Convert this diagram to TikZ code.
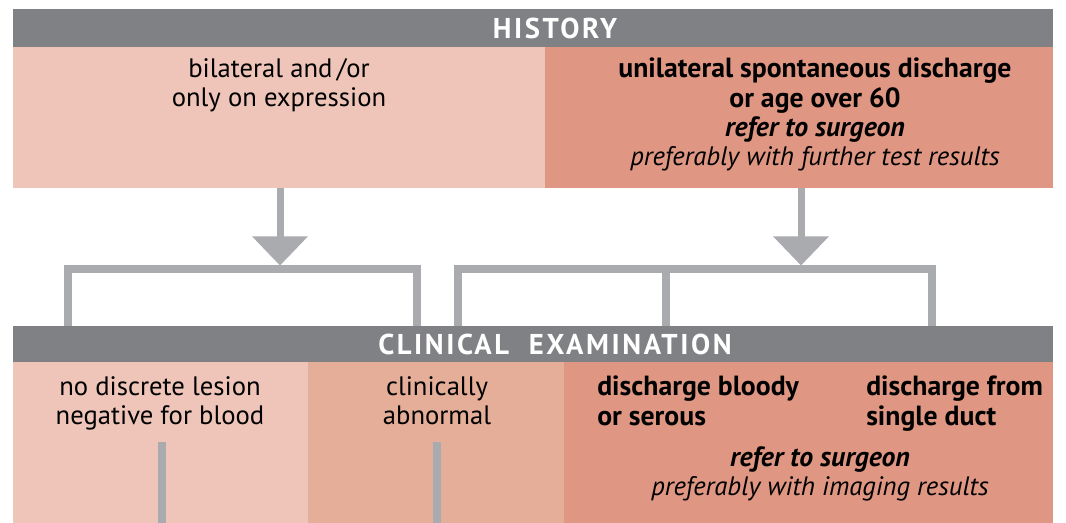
\documentclass[tikz,border=0pt]{standalone}
\usepackage{fontspec}
\setmainfont{PT Sans}
\newfontfamily\headfont[LetterSpace=9]{PT Sans}
\usetikzlibrary{arrows.meta,positioning}
\definecolor{barGray}{RGB}{128,129,133}
\definecolor{paleRose}{RGB}{238,197,184}
\definecolor{midRose}{RGB}{229,174,153}
\definecolor{deepRose}{RGB}{223,150,130}
\definecolor{linkGray}{RGB}{170,171,175}
\newcommand{\bigbf}{\bfseries\fontsize{20.8}{22}\selectfont}

\begin{document}
\begin{tikzpicture}[x=0.75pt,y=-0.75pt,
    bar/.style={fill=barGray,anchor=north west,inner sep=0pt,outer sep=0pt,minimum width=780pt},
    box/.style={anchor=north west,inner sep=0pt,outer sep=0pt,minimum height=105.75pt},
    lowbox/.style={anchor=north west,inner sep=0pt,outer sep=0pt,minimum height=120.75pt},
    title/.style={text=white,inner sep=0pt,font=\headfont\bfseries\fontsize{21.5}{24}\selectfont},
    txt/.style={anchor=north,inner sep=0pt,align=center,font=\fontsize{20}{22}\selectfont},
    link/.style={draw=linkGray,line width=6pt,line join=miter},
    down/.style={draw=linkGray,line width=5.25pt,-{Triangle[width=40.5pt,length=21.75pt]}}]
    \useasboundingbox (0,0) rectangle (1066,523);

    % history
    \node[bar,minimum height=28.5pt] (histHead) at (13,9) {};
    \node[title] (histTitle) at (555,28) {HISTORY};
    \node[box,fill=paleRose,minimum width=399pt] (histL) at (13,47) {};
    \node[box,fill=deepRose,minimum width=381pt] (histR) at (545,47) {};
    \node[txt] (histLtxt) at (279,58) {bilateral and\,/or\\only on expression};
    \node[txt] (histRtxt) at (815,58) {\bigbf unilateral spontaneous discharge\\
        \bigbf or age over 60\\
        \bigbf\itshape refer to surgeon\\
        \itshape preferably with further test results};

    % clinical examination
    \node[bar,minimum height=27pt] (clinHead) at (13,326) {};
    \node[title] (clinTitle) at (555,344) {CLINICAL\ \ EXAMINATION};
    \node[lowbox,fill=paleRose,minimum width=220.875pt] (clinA) at (13,362) {};
    \node[lowbox,fill=midRose,minimum width=192.375pt] (clinB) at (307.5,362) {};
    \node[lowbox,fill=deepRose,minimum width=366.75pt] (clinC) at (564,362) {};
    \node[txt] (clinAtxt) at (160,376) {no discrete lesion\\negative for blood};
    \node[txt] (clinBtxt) at (437,376) {clinically\\abnormal};
    \node[txt,anchor=north west,align=left] (bloody) at (597,376) {\bigbf discharge bloody\\\bigbf or serous};
    \node[txt,anchor=north west,align=left] (duct) at (866,376) {\bigbf discharge from\\\bigbf single duct};
    \node[txt] (clinCtxt) at (820,446) {\bigbf\itshape refer to surgeon\\
        \itshape preferably with imaging results};

    % brackets
    \coordinate (lbL) at (67.7,269.5);
    \coordinate (lbR) at (417,269.5);
    \coordinate (rbL) at (457.5,269.5);
    \coordinate (rbM) at (666,269.5);
    \coordinate (rbR) at (931.6,269.5);
    \draw[link] (lbL |- clinHead.north) -- (lbL) -- (lbR) -- (lbR |- clinHead.north);
    \draw[link] (rbL |- clinHead.north) -- (rbL) -- (rbR) -- (rbR |- clinHead.north);
    \draw[link] (rbM) -- (rbM |- clinHead.north);

    % arrows
    \coordinate (tipL) at (280,265.5);
    \coordinate (tipR) at (801,265.5);
    \draw[down] (tipL |- histL.south) -- (tipL);
    \draw[down] (tipR |- histR.south) -- (tipR);

    % stems
    \coordinate (stemA) at (162,442);
    \coordinate (stemB) at (437,442);
    \draw[link] (stemA) -- (stemA |- clinA.south);
    \draw[link] (stemB) -- (stemB |- clinB.south);
\end{tikzpicture}
\end{document}
